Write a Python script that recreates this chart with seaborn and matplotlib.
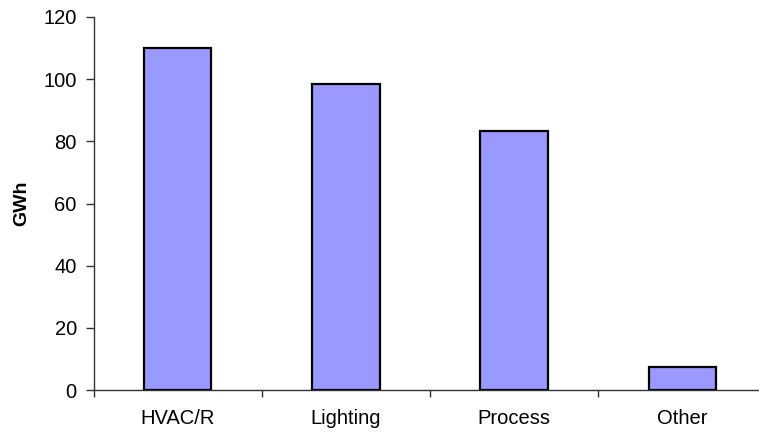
import matplotlib
matplotlib.use("Agg")
import matplotlib.pyplot as plt
import seaborn as sns
import pandas as pd

categories = ["HVAC/R", "Lighting", "Process", "Other"]
gwh = [110.0, 98.4, 83.2, 7.5]

sns.set_theme(style="white")
plt.rcParams["font.family"] = ["Liberation Sans", "DejaVu Sans"]

df = pd.DataFrame({"category": categories, "GWh": gwh})

fig = plt.figure(figsize=(7.59, 4.32), dpi=100)
ax = fig.add_axes([93.5 / 759, 42 / 432, 673 / 759, 373 / 432])

sns.barplot(data=df, x="category", y="GWh", ax=ax, color="#9999FF",
            saturation=1, width=0.4, edgecolor="black", linewidth=1.6)

ax.set_xlim(-0.5, len(categories) - 0.5)
ax.set_ylim(0, 120)
ax.set_yticks(range(0, 121, 20))
# category boundaries carry the tick marks, names sit at the centres
ax.set_xticks([i + 0.5 for i in range(-1, len(categories))])
ax.set_xticklabels([])
ax.set_xticks(range(len(categories)), minor=True)
ax.set_xticklabels(categories, minor=True)
ax.tick_params(axis="x", which="major", direction="out", length=5, width=1,
               color="#333333", bottom=True)
ax.tick_params(axis="x", which="minor", length=0, labelsize=14.5, pad=14,
               labelcolor="black")
ax.tick_params(axis="y", direction="out", length=6, width=1, color="#333333",
               labelsize=14.5, pad=6, labelcolor="black", left=True)

for side in ["top", "right"]:
    ax.spines[side].set_visible(False)
for side in ["left", "bottom"]:
    ax.spines[side].set_color("#333333")
    ax.spines[side].set_linewidth(1)

ax.set_xlabel("")
ax.set_ylabel("GWh", fontsize=14, fontweight="bold", color="black")
ax.yaxis.set_label_coords((30 - 93.5) / 673, (390 - 203) / 373)

fig.savefig("out.png", dpi=100)
